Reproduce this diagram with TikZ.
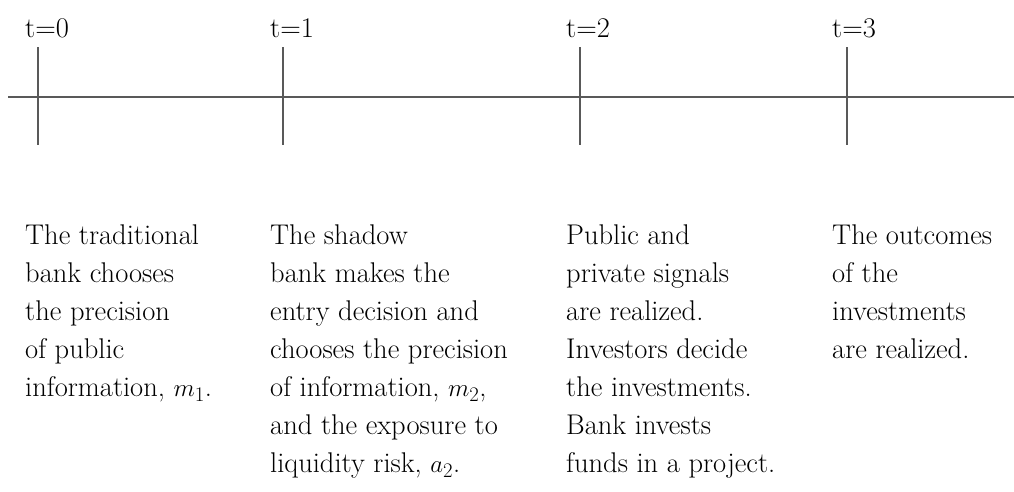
\documentclass[tikz,border=0pt]{standalone}
\begin{document}
\begin{tikzpicture}[x=1pt,y=-1pt,
  lbl/.style={anchor=base west, inner sep=0pt, font=\fontsize{28.5}{38}\selectfont},
  txt/.style={anchor=north west, inner sep=0pt, align=left, font=\fontsize{28.5}{38}\selectfont},
  axis/.style={draw=black!65, line width=1.2pt}]
\useasboundingbox (0,0) rectangle (1014,491);
\coordinate (L) at (8,97);
\coordinate (R) at (1014,97);
\draw[axis] (L) -- (R);
\coordinate (a0) at (38,47);  \coordinate (b0) at (38,145);
\coordinate (a1) at (283,47); \coordinate (b1) at (283,145);
\coordinate (a2) at (580,47); \coordinate (b2) at (580,145);
\coordinate (a3) at (847,47); \coordinate (b3) at (847,145);
\draw[axis] (a0) -- (b0);
\draw[axis] (a1) -- (b1);
\draw[axis] (a2) -- (b2);
\draw[axis] (a3) -- (b3);
\node[lbl] (t0) at (25,37) {t=0};
\node[lbl] (t1) at (270,37) {t=1};
\node[lbl] (t2) at (566,37) {t=2};
\node[lbl] (t3) at (832,37) {t=3};
\node[txt] (c0) at (25,225) {The traditional\\bank chooses\\the precision\\of public\\information, $m_1$.};
\node[txt] (c1) at (270,225) {The shadow\\bank makes the\\entry decision and\\chooses the precision\\of information, $m_2$,\\and the exposure to\\liquidity risk, $a_2$.};
\node[txt] (c2) at (566,225) {Public and\\private signals\\are realized.\\Investors decide\\the investments.\\Bank invests\\funds in a project.};
\node[txt] (c3) at (832,225) {The outcomes\\of the\\investments\\are realized.};
\end{tikzpicture}
\end{document}
